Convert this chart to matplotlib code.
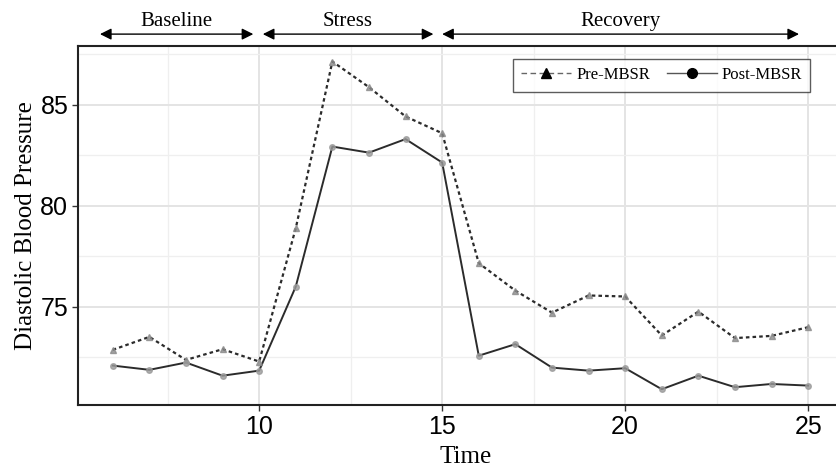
import matplotlib.pyplot as plt
from matplotlib.lines import Line2D
from matplotlib.transforms import blended_transform_factory

# Diastolic blood pressure per time point, before and after MBSR
time = list(range(6, 26))
pre_mbsr = [72.86, 73.5, 72.36, 72.89, 72.28, 78.88, 87.13, 85.86, 84.41, 83.58,
            77.15, 75.79, 74.70, 75.55, 75.50, 73.57, 74.75, 73.44, 73.55, 73.98]
post_mbsr = [72.08, 71.87, 72.23, 71.58, 71.83, 75.99, 82.92, 82.62, 83.29, 82.13,
             72.57, 73.14, 71.98, 71.83, 71.95, 70.91, 71.58, 71.01, 71.17, 71.09]

# Study phases shown above the panel (start, end, label)
phases = [(5.65, 9.84, 'Baseline'), (10.1, 14.76, 'Stress'), (15.0, 24.75, 'Recovery')]

serif = 'Liberation Serif'
sans = 'Liberation Sans'

fig = plt.figure(figsize=(8.36, 4.69), dpi=100)
ax = fig.add_axes([0.0933, 0.1365, 0.915, 0.7655])

ax.plot(time, pre_mbsr, color='#2b2b2b', lw=1.6, ls=(0, (1.6, 1.4)), zorder=3)
ax.plot(time, post_mbsr, color='#2b2b2b', lw=1.4, ls='-', zorder=3)
ax.plot(time, pre_mbsr, ls='none', marker='^', ms=4.5, color='#8a8a8a', alpha=0.8, zorder=4)
ax.plot(time, post_mbsr, ls='none', marker='o', ms=4, color='#9a9a9a', alpha=0.8, zorder=4)

ax.set_xlim(5.05, 25.95)
ax.set_ylim(70.13, 87.9)
ax.set_xticks([10, 15, 20, 25])
ax.set_yticks([75, 80, 85])
ax.set_xticks([7.5, 12.5, 17.5, 22.5], minor=True)
ax.set_yticks([72.5, 77.5, 82.5, 87.5], minor=True)
ax.grid(which='major', color='#e4e4e4', lw=1.4)
ax.grid(which='minor', color='#efefef', lw=0.9)
ax.set_axisbelow(True)
ax.tick_params(which='minor', length=0)
ax.tick_params(which='major', length=4, width=1, color='#333333',
               labelsize=18, pad=3)
for lab in ax.get_xticklabels() + ax.get_yticklabels():
    lab.set_fontfamily(sans)

for side in ['left', 'bottom', 'top']:
    ax.spines[side].set_color('#222222')
    ax.spines[side].set_linewidth(1.5)
ax.spines['right'].set_visible(False)

ax.set_xlabel('Time', fontfamily=serif, fontsize=18)
ax.xaxis.set_label_coords(0.507, -0.115)
ax.set_ylabel('Diastolic Blood Pressure', fontfamily=serif, fontsize=18, labelpad=2)

# Phase arrows and labels above the panel
trans = blended_transform_factory(ax.transData, ax.transAxes)
for start, end, label in phases:
    ax.annotate('', xy=(end, 1.033), xytext=(start, 1.033), xycoords=trans,
                textcoords=trans, annotation_clip=False,
                arrowprops=dict(arrowstyle='<|-|>', color='black', lw=1,
                                mutation_scale=17, shrinkA=0, shrinkB=0))
    ax.text((start + end) / 2, 1.068, label, transform=trans, ha='center',
            va='center', fontfamily=serif, fontsize=15)

handles = [
    Line2D([], [], color='#666666', lw=1, ls=(0, (4, 2.5)), marker='^',
           ms=7, markerfacecolor='black', markeredgecolor='black'),
    Line2D([], [], color='#555555', lw=1, ls='-', marker='o',
           ms=7, markerfacecolor='black', markeredgecolor='black'),
]
leg = ax.legend(handles, ['Pre-MBSR', 'Post-MBSR'], ncol=2,
                loc='upper left', bbox_to_anchor=(0.5687, 0.964),
                borderaxespad=0, prop={'family': serif, 'size': 12},
                frameon=True, fancybox=False, edgecolor='#333333',
                handlelength=3.0, columnspacing=1.0, handletextpad=0.3,
                borderpad=0.5)
leg.get_frame().set_linewidth(1)

fig.savefig('out.png', dpi=100)
